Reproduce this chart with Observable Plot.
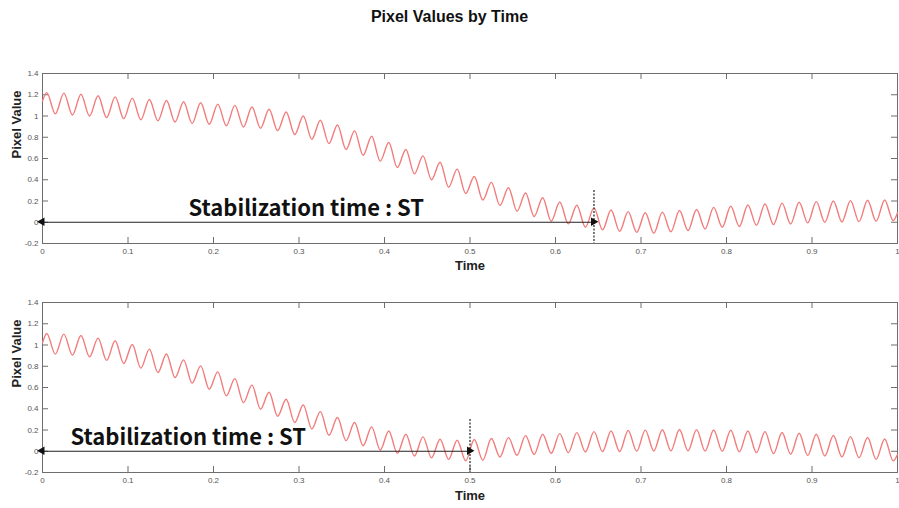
<!DOCTYPE html>
<html>
<head>
<meta charset="utf-8">
<script src="https://cdn.jsdelivr.net/npm/d3@7"></script>
<script src="https://cdn.jsdelivr.net/npm/@observablehq/plot@0.6"></script>
<style>
  html, body { margin: 0; padding: 0; background: #fff; }
  #wrap { position: relative; width: 899px; height: 508px; overflow: hidden; }
  #title { position: absolute; left: 0; top: 8px; width: 899px; text-align: center;
           font: bold 16px "Liberation Sans", Arial, sans-serif; color: #111; }
  #p1 { position: absolute; left: 0; top: 40px; }
  #p2 { position: absolute; left: 0; top: 280px; }
</style>
</head>
<body>
<div id="wrap">
  <div id="title">Pixel Values by Time</div>
  <div id="p1"></div>
  <div id="p2"></div>
</div>
<script>
// ---- data (start, alternating peaks/troughs, end) ----
const time = [0,
  0.005,0.015,0.025,0.035,0.045,0.055,0.065,0.075,0.085,0.095,
  0.105,0.115,0.125,0.135,0.145,0.155,0.165,0.175,0.185,0.195,
  0.205,0.215,0.225,0.235,0.245,0.255,0.265,0.275,0.285,0.295,
  0.305,0.315,0.325,0.335,0.345,0.355,0.365,0.375,0.385,0.395,
  0.405,0.415,0.425,0.435,0.445,0.455,0.465,0.475,0.485,0.495,
  0.505,0.515,0.525,0.535,0.545,0.555,0.565,0.575,0.585,0.595,
  0.605,0.615,0.625,0.635,0.645,0.655,0.665,0.675,0.685,0.695,
  0.705,0.715,0.725,0.735,0.745,0.755,0.765,0.775,0.785,0.795,
  0.805,0.815,0.825,0.835,0.845,0.855,0.865,0.875,0.885,0.895,
  0.905,0.915,0.925,0.935,0.945,0.955,0.965,0.975,0.985,0.995,
  1];

const topValues = [1.14,
  1.22,1.02,1.215,1.01,1.205,1.0,1.19,0.985,1.18,0.975,
  1.168,0.965,1.156,0.955,1.146,0.943,1.134,0.93,1.125,0.922,
  1.112,0.908,1.10,0.897,1.085,0.885,1.063,0.862,1.038,0.826,
  1.0,0.78,0.96,0.74,0.915,0.685,0.86,0.63,0.81,0.575,
  0.75,0.515,0.685,0.455,0.625,0.40,0.565,0.33,0.5,0.27,
  0.43,0.21,0.375,0.158,0.325,0.104,0.275,0.054,0.23,0.01,
  0.19,-0.015,0.16,-0.047,0.135,-0.072,0.115,-0.085,0.1,-0.095,
  0.09,-0.104,0.095,-0.09,0.11,-0.078,0.12,-0.063,0.14,-0.047,
  0.15,-0.04,0.163,-0.028,0.172,-0.022,0.18,-0.016,0.188,-0.006,
  0.194,0.0,0.2,0.003,0.204,0.006,0.207,0.009,0.21,0.016,
  0.09];

const bottomValues = [1.02,
  1.108,0.914,1.102,0.905,1.09,0.889,1.065,0.855,1.04,0.826,
  1.005,0.782,0.961,0.741,0.915,0.694,0.86,0.641,0.804,0.584,
  0.747,0.521,0.684,0.458,0.622,0.396,0.555,0.33,0.49,0.27,
  0.436,0.21,0.373,0.15,0.317,0.1,0.27,0.052,0.229,0.012,
  0.191,-0.02,0.16,-0.045,0.135,-0.062,0.113,-0.076,0.104,-0.09,
  0.11,-0.085,0.12,-0.054,0.128,-0.037,0.147,-0.03,0.16,-0.019,
  0.166,-0.013,0.175,-0.007,0.185,-0.003,0.191,-0.002,0.195,0.0,
  0.199,0.003,0.203,0.004,0.205,0.004,0.204,0.002,0.2,0.0,
  0.198,-0.006,0.191,-0.013,0.185,-0.022,0.176,-0.028,0.17,-0.04,
  0.16,-0.044,0.148,-0.053,0.138,-0.06,0.129,-0.075,0.116,-0.09,
  -0.03];

const xTicks = [0,0.1,0.2,0.3,0.4,0.5,0.6,0.7,0.8,0.9,1];
const xTickLabels = ["0","0.1","0.2","0.3","0.4","0.5","0.6","0.7","0.8","0.9","1"];
const yTicks = [-0.2,0,0.2,0.4,0.6,0.8,1,1.2,1.4];
const yTickLabels = ["-0.2","0","0.2","0.4","0.6","0.8","1","1.2","1.4"];

const stTimes = [0.645, 0.5];          // stabilization time of each panel
const stLevel = 0;                     // level of the ST arrow
const stMarkTop = 0.3;                 // top of the dashed ST marker
const stLabel = "Stabilization time : ST";
const xLabel = "Time";
const yLabel = "Pixel Value";

// ---- drawing ----
const W = 899, ML = 42, MR = 2, FH = 170;
const FW = W - ML - MR;
const gray = "#6e6e6e";

function panel(values, st, opts) {
  const rows = time.map((t, i) => ({t, v: values[i]}));
  const heads = [
    {t: time[0], rot: -90, dx: 2.5},
    {t: st, rot: 90, dx: -2.5}
  ];
  return Plot.plot({
    width: W,
    height: opts.height,
    marginTop: opts.marginTop,
    marginBottom: opts.marginBottom,
    marginLeft: ML,
    marginRight: MR,
    x: {domain: [0, 1]},
    y: {domain: [-0.2, 1.4]},
    style: {fontFamily: "'Liberation Sans', Arial, sans-serif", fontSize: "8px", background: "white", overflow: "visible"},
    marks: [
      Plot.frame({stroke: gray, strokeWidth: 1}),
      // inward ticks on all four sides
      Plot.tickX(xTicks, {x: d => d, insetTop: FH - 6, stroke: gray}),
      Plot.tickX(xTicks, {x: d => d, insetBottom: FH - 6, stroke: gray}),
      Plot.tickY(yTicks, {y: d => d, insetRight: FW - 6, stroke: gray}),
      Plot.tickY(yTicks, {y: d => d, insetLeft: FW - 6, stroke: gray}),
      Plot.axisX(xTicks, {tickSize: 0, tickPadding: 5, color: "#555", label: null,
        tickFormat: d => xTickLabels[xTicks.indexOf(d)]}),
      Plot.axisY(yTicks, {tickSize: 0, tickPadding: 4, color: "#555", label: null,
        tickFormat: d => yTickLabels[yTicks.indexOf(d)]}),
      Plot.text([xLabel], {text: d => d, frameAnchor: "bottom", dy: opts.timeDy, fontSize: 13,
        fontWeight: "bold", fill: "#222"}),
      Plot.text([yLabel], {text: d => d, frameAnchor: "left", dx: -26, rotate: -90, fontSize: 13,
        fontWeight: "bold", fill: "#222"}),
      // signal
      Plot.line(rows, {x: "t", y: "v", stroke: "#f27b7b", strokeWidth: 1.4, curve: "monotone-x"}),
      // ST annotation
      Plot.ruleX([st], {x: d => d, y1: stMarkTop, y2: -0.2, stroke: "#222", strokeWidth: 1.2, strokeDasharray: "2,1.5"}),
      Plot.link([st], {x1: time[0], x2: d => d, y1: stLevel, y2: stLevel, stroke: "#222", strokeWidth: 1}),
      Plot.dot(heads, {x: "t", y: stLevel, dx: "dx", rotate: "rot", symbol: "triangle", r: 3.2, fill: "#111", stroke: "none"}),
      Plot.text([stLabel], {text: d => d, x: time[0], y: stLevel, dx: opts.textDx, dy: -6,
        textAnchor: "start", lineAnchor: "bottom", fontSize: 22, fontWeight: "bold",
        fontFamily: "'Noto Sans CJK KR', 'Noto Sans', sans-serif", fill: "#111"})
    ]
  });
}

document.getElementById("p1").append(panel(topValues, stTimes[0],
  {height: 240, marginTop: 33, marginBottom: 37, timeDy: 26, textDx: 146}));
document.getElementById("p2").append(panel(bottomValues, stTimes[1],
  {height: 228, marginTop: 22, marginBottom: 36, timeDy: 27, textDx: 28}));
</script>
</body>
</html>
